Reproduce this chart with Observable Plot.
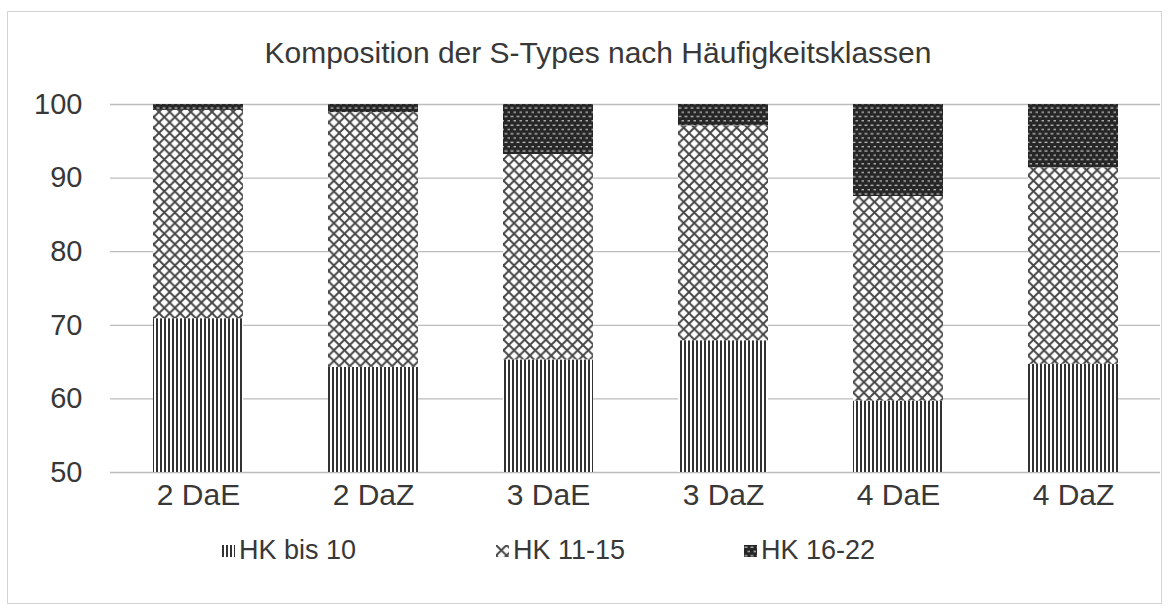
<!DOCTYPE html>
<html>
<head>
<meta charset="utf-8">
<script src="https://cdn.jsdelivr.net/npm/d3@7"></script>
<script src="https://cdn.jsdelivr.net/npm/@observablehq/plot@0.6"></script>
<style>
  body { margin: 0; background: #fff; font-family: "Liberation Sans", Arial, sans-serif; }
  #frame { position: absolute; left: 7px; top: 11px; width: 1155px; height: 593px; border: 1px solid #d4d4d4; box-sizing: border-box; }
  #title { position: absolute; left: 0; width: 1196px; top: 36px; text-align: center; font-size: 30px; color: #383838; }
  #chart { position: absolute; left: 0; top: 80px; }
  .leg { position: absolute; top: 535px; font-size: 27px; color: #383838; display: flex; align-items: center; }
  .leg svg { margin-right: 4px; }
</style>
</head>
<body>
<svg width="0" height="0" style="position:absolute">
  <defs>
    <pattern id="pVert" patternUnits="userSpaceOnUse" width="4" height="4">
      <rect width="4" height="4" fill="#ffffff"/>
      <rect x="0" y="0" width="2" height="4" fill="#333333"/>
    </pattern>
    <pattern id="pDiam" patternUnits="userSpaceOnUse" width="10.6" height="10.6">
      <rect width="10.6" height="10.6" fill="#ffffff"/>
      <path d="M0,0L10.6,10.6M10.6,0L0,10.6" stroke="#444444" stroke-width="1.9"/>
    </pattern>
    <pattern id="pDark" patternUnits="userSpaceOnUse" width="6" height="8.6">
      <rect width="6" height="8.6" fill="#262626"/>
      <rect x="0.5" y="1.6" width="3" height="1.1" fill="#d8d8d8"/>
      <rect x="3.5" y="5.9" width="3" height="1.1" fill="#d8d8d8"/>
    </pattern>
  </defs>
</svg>
<div id="frame"></div>
<div id="title">Komposition der S-Types nach Häufigkeitsklassen</div>
<div id="chart"></div>
<div class="leg" style="left:222px"><svg width="13" height="12"><rect width="13" height="12" fill="url(#pVert)"/></svg>HK bis 10</div>
<div class="leg" style="left:496px"><svg width="13" height="12"><rect width="13" height="12" fill="url(#pDiam)"/></svg>HK 11-15</div>
<div class="leg" style="left:744px"><svg width="13" height="12"><rect width="13" height="12" fill="url(#pDark)"/></svg>HK 16-22</div>
<script>
const categories = ["2 DaE", "2 DaZ", "3 DaE", "3 DaZ", "4 DaE", "4 DaZ"];
const seriesNames = ["HK bis 10", "HK 11-15", "HK 16-22"];
const hkBis10 = [70.9, 64.3, 65.3, 67.9, 59.7, 64.7];
const hk11to15 = [28.3, 34.6, 27.9, 29.2, 27.8, 26.7];
const hk16to22 = [0.8, 1.1, 6.8, 2.9, 12.5, 8.6];
const yTicks = [50, 60, 70, 80, 90, 100];
const patterns = ["url(#pVert)", "url(#pDiam)", "url(#pDark)"];

const seriesValues = [hkBis10, hk11to15, hk16to22];
const data = [];
seriesNames.forEach((s, si) => {
  categories.forEach((c, ci) => data.push({category: c, series: s, value: seriesValues[si][ci]}));
});

const chart = Plot.plot({
  width: 1171,
  height: 440,
  marginTop: 24,
  marginBottom: 48,
  marginLeft: 110,
  marginRight: 11,
  style: {fontFamily: "Liberation Sans, Arial, sans-serif", fontSize: "29px", color: "#383838", background: "transparent"},
  x: {domain: categories, paddingInner: 0.486, paddingOuter: 0.243, label: null},
  y: {domain: [50, 100], label: null},
  color: {domain: seriesNames, range: patterns},
  marks: [
    Plot.ruleY(yTicks, {stroke: "#bdbdbd", strokeWidth: 1.3}),
    Plot.barY(data, Plot.stackY({x: "category", y: "value", fill: "series", clip: true})),
    Plot.axisY(yTicks, {tickSize: 0, tickPadding: 28, fontSize: 29, fill: "#383838", label: null}),
    Plot.axisX({tickSize: 0, tickPadding: 11, fontSize: 30, fill: "#383838", label: null})
  ]
});
document.getElementById("chart").appendChild(chart);
</script>
</body>
</html>
